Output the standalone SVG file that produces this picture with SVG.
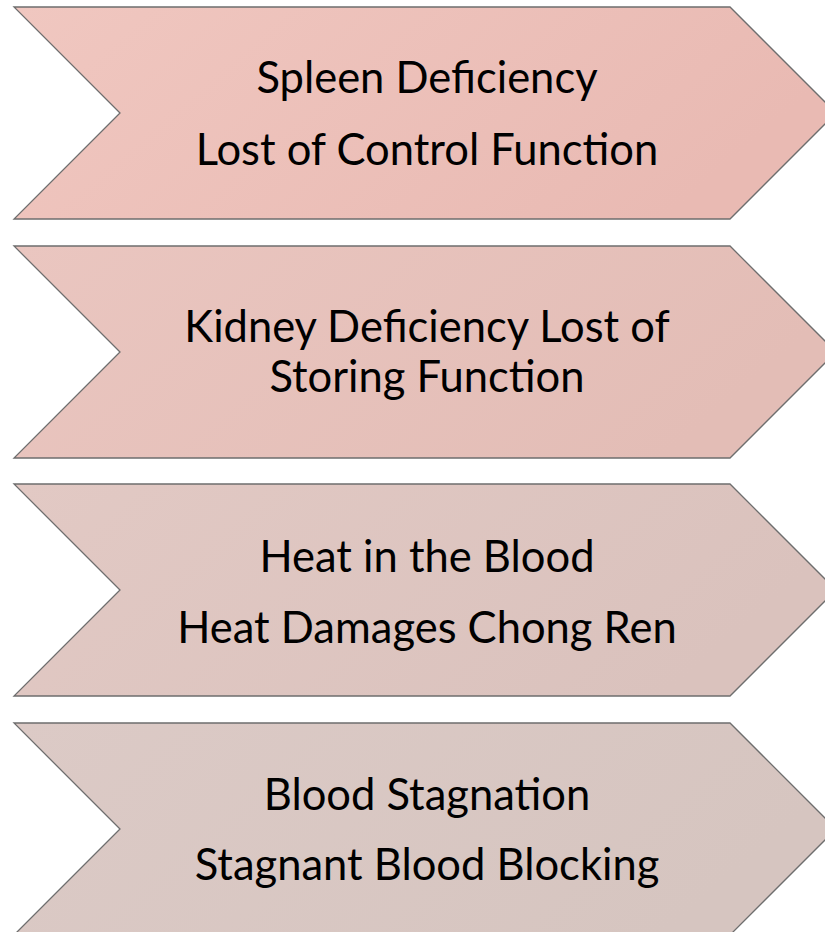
<svg xmlns="http://www.w3.org/2000/svg" width="825" height="932" viewBox="0 0 825 932">
<defs>
<linearGradient id="g1" x1="0" y1="0" x2="1" y2="0.3"><stop offset="0" stop-color="#F0C7C0"/><stop offset="1" stop-color="#E9BAB3"/></linearGradient>
<linearGradient id="g2" x1="0" y1="0" x2="1" y2="0.3"><stop offset="0" stop-color="#EAC6C0"/><stop offset="1" stop-color="#E3BDB6"/></linearGradient>
<linearGradient id="g3" x1="0" y1="0" x2="1" y2="0.3"><stop offset="0" stop-color="#E2C9C4"/><stop offset="1" stop-color="#DAC2BD"/></linearGradient>
<linearGradient id="g4" x1="0" y1="0" x2="1" y2="0.3"><stop offset="0" stop-color="#DCCAC6"/><stop offset="1" stop-color="#D6C5C0"/></linearGradient>
</defs>
<style>
.chev{stroke:#6E6E6E;stroke-width:1.3;stroke-linejoin:miter}
.t{font-family:Lato,"Open Sans","Liberation Sans",sans-serif;font-size:43.5px;fill:#000;text-anchor:middle}
</style>
<rect width="825" height="932" fill="#FFFFFF"/>
<g id="node1">
<path class="chev" fill="url(#g1)" d="M14,7 L730,7 L836,113 L730,219 L14,219 L120,113 Z"/>
<text class="t" x="427" y="93">Spleen Deficiency</text>
<text class="t" x="427" y="165">Lost of Control Function</text>
</g>
<g id="node2">
<path class="chev" fill="url(#g2)" d="M14,246 L730,246 L836,352 L730,458 L14,458 L120,352 Z"/>
<text class="t" x="427" y="342">Kidney Deficiency Lost of</text>
<text class="t" x="427" y="392">Storing Function</text>
</g>
<g id="node3">
<path class="chev" fill="url(#g3)" d="M14,484 L730,484 L836,590 L730,696 L14,696 L120,590 Z"/>
<text class="t" x="427" y="572">Heat in the Blood</text>
<text class="t" x="427" y="643">Heat Damages Chong Ren</text>
</g>
<g id="node4">
<path class="chev" fill="url(#g4)" d="M14,723 L730,723 L836,829 L730,935 L14,935 L120,829 Z"/>
<text class="t" x="427" y="810">Blood Stagnation</text>
<text class="t" x="427" y="880">Stagnant Blood Blocking</text>
</g>
<g id="connectors"/>
</svg>
